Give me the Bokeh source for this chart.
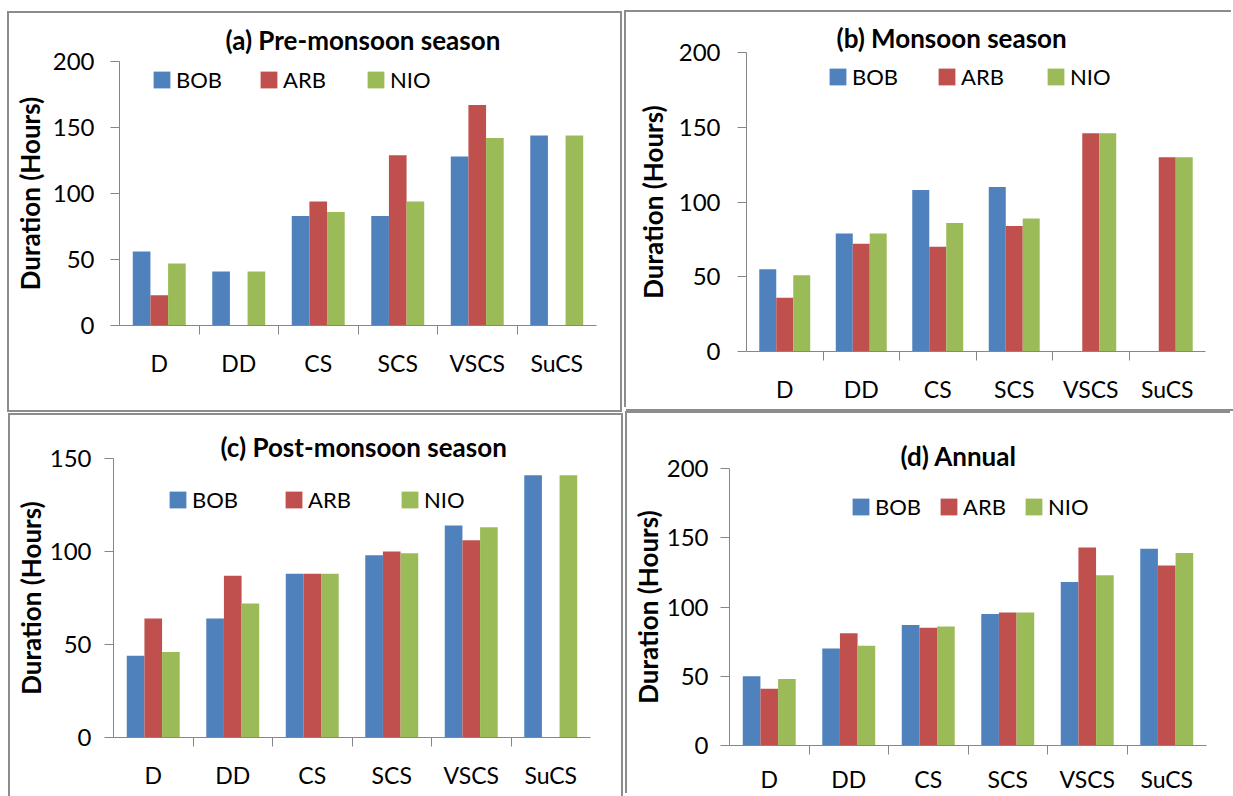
from bokeh.plotting import figure
from bokeh.models import (ColumnDataSource, Range1d, FactorRange, CategoricalAxis,
                          SingleIntervalTicker, Legend, LegendItem, Title, Spacer)
from bokeh.layouts import row, column
from bokeh.transform import dodge
from bokeh.embed import file_html
from bokeh.resources import INLINE

# ---------------- data ----------------
categories = ["D", "DD", "CS", "SCS", "VSCS", "SuCS"]
series_names = ["BOB", "ARB", "NIO"]
series_colors = ["#4F81BD", "#C0504D", "#9BBB59"]

pre_bob = [56, 41, 83, 83, 128, 144]
pre_arb = [23, 0, 94, 129, 167, 0]
pre_nio = [47, 41, 86, 94, 142, 144]

mon_bob = [55, 79, 108, 110, 0, 0]
mon_arb = [36, 72, 70, 84, 146, 130]
mon_nio = [51, 79, 86, 89, 146, 130]

post_bob = [44, 64, 88, 98, 114, 141]
post_arb = [64, 87, 88, 100, 106, 0]
post_nio = [46, 72, 88, 99, 113, 141]

ann_bob = [50, 70, 87, 95, 118, 142]
ann_arb = [41, 81, 85, 96, 143, 130]
ann_nio = [48, 72, 86, 96, 123, 139]

panel_titles = ["(a) Pre-monsoon season", "(b) Monsoon season",
                "(c) Post-monsoon season", "(d) Annual"]
y_max = [200, 200, 150, 200]
y_tick_step = 50
y_label = "Duration (Hours)"

# ---------------- style ----------------
FONT = "Lato"
AXIS_GRAY = "#868686"
BORDER_GRAY = "#8c8c8c"
BAR_W = 0.222

layouts = [
    dict(w=611, h=397, mbl=110, mbr=24, mbt=48, mbb=85, als=4, tls=16, lx=32, ly=232,
         lw=50, sp=32, cs=14, toff=106, tsd=12,
         css={"outline": "2px solid " + BORDER_GRAY, "outline-offset": "0px"}),
    dict(w=607, h=397, mbl=120, mbr=28, mbt=40, mbb=58, als=7, tls=17, lx=81, ly=261,
         lw=50, sp=34, cs=14, toff=90, tsd=-2,
         css={"box-shadow": "-2px -2px 0 0 %s, 0 2px 0 0 %s" % (BORDER_GRAY, BORDER_GRAY)}),
    dict(w=611, h=381, mbl=103, mbr=31, mbt=43, mbb=59, als=0, tls=13, lx=54, ly=224,
         lw=50, sp=41, cs=14, toff=107, tsd=-9,
         css={"outline": "2px solid " + BORDER_GRAY, "outline-offset": "0px"}),
    dict(w=605, h=382, mbl=102, mbr=26, mbt=55, mbb=50, als=0, tls=12, lx=121, ly=225,
         lw=0, sp=17, cs=10, toff=171, tsd=-6,
         css={"box-shadow": "-2px -2px 0 0 %s" % BORDER_GRAY}),
]


def make_panel(title, values, ymax, L):
    src = ColumnDataSource(dict(cat=categories, BOB=values[0], ARB=values[1], NIO=values[2]))
    fig = figure(x_range=FactorRange(*categories, range_padding=0, factor_padding=0),
                 y_range=Range1d(0, ymax), width=L["w"], height=L["h"],
                 output_backend="svg", toolbar_location=None, x_axis_location=None,
                 min_border_left=L["mbl"], min_border_right=L["mbr"],
                 min_border_top=L["mbt"], min_border_bottom=L["mbb"])
    fig.title = Title(text=title, align="left", offset=L["toff"], standoff=L["tsd"],
                      text_font=FONT, text_font_style="bold", text_font_size="26px",
                      text_color="black")
    fig.outline_line_color = None
    fig.background_fill_color = "white"
    fig.border_fill_color = "white"
    fig.ygrid.grid_line_color = None
    fig.xgrid.grid_line_color = None

    items = []
    for k, (name, color) in enumerate(zip(series_names, series_colors)):
        r = fig.vbar(x=dodge("cat", (k - 1) * BAR_W, range=fig.x_range), top=name,
                     width=BAR_W, source=src, fill_color=color, line_color=None)
        items.append(LegendItem(label=name, renderers=[r]))

    # y axis
    yax = fig.left[0]
    yax.ticker = SingleIntervalTicker(interval=y_tick_step, num_minor_ticks=0)
    yax.axis_label = y_label
    yax.axis_label_text_font = FONT
    yax.axis_label_text_font_style = "bold"
    yax.axis_label_text_font_size = "26px"
    yax.axis_label_text_color = "black"
    yax.axis_label_standoff = L["als"]
    yax.major_label_text_font = FONT
    yax.major_label_text_font_size = "24px"
    yax.major_label_text_color = "black"
    yax.major_label_standoff = L["tls"]
    yax.axis_line_color = AXIS_GRAY
    yax.major_tick_line_color = AXIS_GRAY
    yax.major_tick_out = 9
    yax.major_tick_in = 0
    yax.minor_tick_line_color = None

    # x axis: boundary ticks between categories via a shifted helper factor range
    n_bounds = len(categories) + 1
    bound_factors = [" " * (i + 1) for i in range(n_bounds)]
    fig.extra_x_ranges = {"bounds": FactorRange(*bound_factors, factor_padding=0,
                                                range_padding=-0.5,
                                                range_padding_units="absolute")}
    tick_axis = CategoricalAxis(x_range_name="bounds", major_tick_out=9, major_tick_in=0,
                                major_label_text_font_size="0px", major_label_standoff=0,
                                axis_line_color=AXIS_GRAY, major_tick_line_color=AXIS_GRAY)
    fig.add_layout(tick_axis, "below")
    cat_axis = CategoricalAxis(major_tick_out=0, major_tick_in=0, major_tick_line_color=None,
                               axis_line_color=None, major_label_standoff=L["cs"],
                               major_label_text_font=FONT, major_label_text_font_size="23px",
                               major_label_text_color="black")
    fig.add_layout(cat_axis, "below")

    leg = Legend(items=items, orientation="horizontal", location=(L["lx"], L["ly"]),
                 glyph_width=21, glyph_height=21, label_standoff=4, label_width=L["lw"],
                 label_height=21, spacing=L["sp"], padding=0, margin=0,
                 border_line_color=None, background_fill_alpha=0,
                 label_text_font=FONT, label_text_font_size="22px", label_text_color="black")
    fig.add_layout(leg, "center")

    fig.styles = L["css"]
    return fig


all_values = [
    [pre_bob, pre_arb, pre_nio],
    [mon_bob, mon_arb, mon_nio],
    [post_bob, post_arb, post_nio],
    [ann_bob, ann_arb, ann_nio],
]
fa, fb, fc, fd = [make_panel(t, v, m, L)
                  for t, v, m, L in zip(panel_titles, all_values, y_max, layouts)]

# lower panels are offset by 1px so their plot frames are not auto-aligned with the upper ones
left_col = column(Spacer(width=611, height=13), fa, Spacer(width=611, height=5),
                  row(Spacer(width=1, height=1), fc, spacing=0), spacing=0)
right_col = column(Spacer(width=607, height=12), fb, Spacer(width=607, height=4),
                   row(Spacer(width=1, height=1), fd, spacing=0), spacing=0)
p = row(Spacer(width=9, height=10), left_col, Spacer(width=5, height=10), right_col, spacing=0)

open("out.html", "w").write(file_html(p, INLINE))
